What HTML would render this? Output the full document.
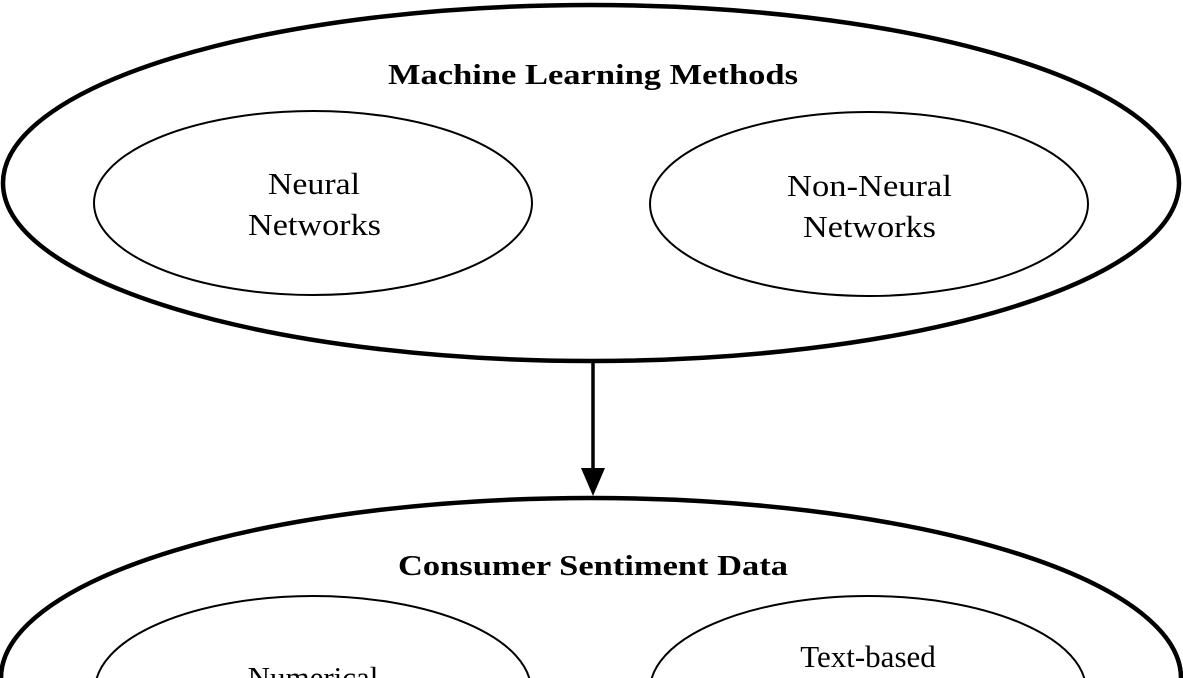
<!DOCTYPE html>
<html><head><meta charset="utf-8"><style>
html,body{margin:0;padding:0;background:#fff;overflow:hidden;width:1183px;height:678px;}
svg{display:block;}
text{font-family:"Liberation Serif",serif;fill:#000;}
</style></head><body>
<svg width="1183" height="678" viewBox="0 0 1183 678" xmlns="http://www.w3.org/2000/svg">
<rect width="1183" height="678" fill="#fff"/>
<ellipse cx="591" cy="183" rx="588" ry="178" fill="none" stroke="#000" stroke-width="4.5"/>
<text x="388" y="84" font-size="29" font-weight="bold" textLength="410" lengthAdjust="spacingAndGlyphs">Machine Learning Methods</text>
<ellipse cx="313" cy="203" rx="219" ry="92" fill="none" stroke="#000" stroke-width="2"/>
<text x="268" y="194" font-size="31" textLength="92" lengthAdjust="spacingAndGlyphs">Neural</text>
<text x="248" y="235" font-size="31" textLength="133" lengthAdjust="spacingAndGlyphs">Networks</text>
<ellipse cx="869" cy="204" rx="219" ry="92" fill="none" stroke="#000" stroke-width="2"/>
<text x="787" y="196" font-size="31" textLength="165" lengthAdjust="spacingAndGlyphs">Non-Neural</text>
<text x="803" y="237" font-size="31" textLength="133" lengthAdjust="spacingAndGlyphs">Networks</text>
<line x1="593" y1="362" x2="593" y2="472" stroke="#000" stroke-width="3.5"/>
<polygon points="581,468 605,468 593,496" fill="#000"/>
<ellipse cx="591" cy="678" rx="590" ry="180" fill="none" stroke="#000" stroke-width="4.5"/>
<text x="398" y="575" font-size="29" font-weight="bold" textLength="390" lengthAdjust="spacingAndGlyphs">Consumer Sentiment Data</text>
<ellipse cx="313" cy="690" rx="218" ry="94" fill="none" stroke="#000" stroke-width="2"/>
<text x="313" y="688" font-size="31" text-anchor="middle">Numerical</text>
<ellipse cx="868" cy="690" rx="218" ry="94" fill="none" stroke="#000" stroke-width="2"/>
<text x="868" y="667" font-size="31" text-anchor="middle">Text-based</text>
</svg>
</body></html>
